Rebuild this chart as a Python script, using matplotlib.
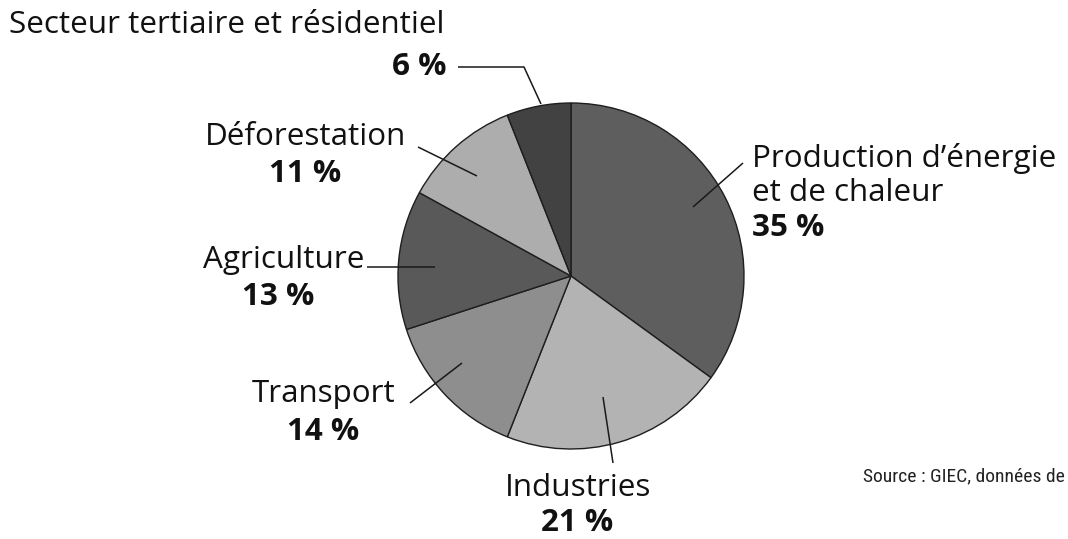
import matplotlib
matplotlib.use("Agg")
import matplotlib.pyplot as plt

categories = ["Production d\u2019énergie\net de chaleur", "Industries", "Transport",
              "Agriculture", "Déforestation", "Secteur tertiaire et résidentiel"]
values = [35, 21, 14, 13, 11, 6]
value_labels = ["35 %", "21 %", "14 %", "13 %", "11 %", "6 %"]
colors = ["#5e5e5e", "#b3b3b3", "#8e8e8e", "#595959", "#adadad", "#424242"]

W, H = 1068, 539
fig = plt.figure(figsize=(W / 100, H / 100), dpi=100)
ax = fig.add_axes([0, 0, 1, 1])

def Y(y):
    return H - y

cx, cy, r = 571, Y(276), 173
wedges, _ = ax.pie(values, colors=colors, startangle=90, counterclock=False,
                   center=(cx, cy), radius=r, frame=True,
                   wedgeprops=dict(edgecolor="#1e1e1e", linewidth=1.0))
ax.set_xlim(0, W)
ax.set_ylim(0, H)
ax.set_aspect("equal")
ax.axis("off")

fam = ["Open Sans", "DejaVu Sans"]
fs = 22.6
lc = "#1a1a1a"
lw = 1.1
tc = "#111111"

def line(pts):
    xs = [p[0] for p in pts]
    ys = [Y(p[1]) for p in pts]
    ax.plot(xs, ys, color=lc, lw=lw, solid_capstyle="butt")

def lab(x, y, s, ha="center", bold=False):
    ax.text(x, Y(y), s, fontsize=fs, family=fam, ha=ha, va="center", color=tc,
            weight="bold" if bold else "normal")

# Secteur tertiaire
lab(9, 25, categories[5], ha="left")
lab(447, 67, value_labels[5], ha="right", bold=True)
line([(458, 67), (524, 67), (541, 104)])

# Déforestation
lab(305, 137, categories[4])
lab(305, 174, value_labels[4], bold=True)
line([(418, 147), (477, 176)])

# Agriculture
lab(364, 260, categories[3], ha="right")
lab(278, 297, value_labels[3], bold=True)
line([(367, 267), (435, 267)])

# Transport
lab(324, 394, categories[2])
lab(323, 432, value_labels[2], bold=True)
line([(410, 403), (462, 363)])

# Industries
lab(578, 488, categories[1])
lab(577, 523, value_labels[1], bold=True)
line([(603, 397), (613, 463)])

# Production
prod_lines = categories[0].split("\n")
lab(752, 158, prod_lines[0], ha="left")
lab(752, 193, prod_lines[1], ha="left")
lab(752, 228, value_labels[0], ha="left", bold=True)
line([(743, 163), (693, 207)])

# Source
ax.text(863, Y(476), "Source : GIEC, données de", fontsize=14,
        family=["Liberation Sans Narrow", "Roboto Condensed", "Roboto", "DejaVu Sans"],
        ha="left", va="center", color="#222", clip_on=False)

fig.savefig("out.png", dpi=100, facecolor="white")
